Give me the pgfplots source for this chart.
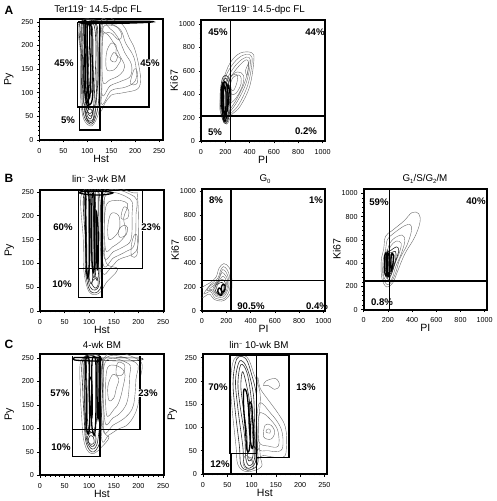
\documentclass[border=0pt]{standalone}
\usepackage{pgfplots}
\pgfplotsset{compat=1.18}
\usepackage{fontspec}
\setmainfont{Liberation Sans}
\newcommand\ct[1]{\addplot[ctl] coordinates {#1};}
\newcommand\cb[1]{\addplot[ctb] coordinates {#1};}
\newcommand\ck[1]{\addplot[ctk] coordinates {#1};}
\newcommand\gt[1]{\addplot[gate] coordinates {#1};}
\newcommand\mns{\raisebox{.55ex}{\fontsize{5.5}{6}\selectfont\textminus}}
\tikzset{
 ctl/.style={color=black!58,line width=.4pt,smooth cycle,tension=.6},
 ctb/.style={color=black!82,line width=.6pt,smooth cycle,tension=.6},
 ctk/.style={color=black,line width=1.3pt,smooth cycle,tension=.6},
 gate/.style={color=black,line width=1.4pt,sharp plot},
 pct/.style={font=\fontsize{9.6}{10}\selectfont\bfseries,inner sep=.6pt},
 ttl/.style={font=\fontsize{9.8}{10}\selectfont},
 pan/.style={font=\fontsize{12}{13}\selectfont\bfseries}
}
\pgfplotsset{
 fc/.style={scale only axis,anchor=south west,
  axis line style={line width=1.7pt},
  /pgf/number format/assume math mode=true,
  /pgf/number format/1000 sep={},
  tick label style={font=\fontsize{7.2}{8}\selectfont},
  label style={font=\fontsize{10.5}{11}\selectfont},
  tick style={black,line width=.5pt},
  major tick length=2.5pt, minor tick length=1.4pt,
  tick align=outside,
  minor tick num=4,
  xtick pos=bottom, ytick pos=left,
  xlabel style={yshift=5pt}, ylabel style={yshift=1pt},
  xticklabel style={yshift=-2pt}, yticklabel style={xshift=0pt},
  scaled ticks=false, no markers},
 hst/.style={xtick={0,50,100,150,200,250},ytick={0,50,100,150,200,250},xlabel={Hst},ylabel={Py}},
 pik/.style={xtick={0,200,400,600,800,1000},ytick={0,200,400,600,800,1000},xlabel={PI},ylabel={Ki67},ylabel style={yshift=-7pt}},
}
\begin{document}
\begin{tikzpicture}[x=1pt,y=1pt]
\useasboundingbox (0,0) rectangle (496,501);
% ---------- A1
\begin{axis}[fc,hst,at={(39.5pt,361pt)},width=123.5pt,height=121pt,xmin=0,xmax=258,ymin=0,ymax=256]
\ct{(125,72)(138,80)(150,95)(175,100)(205,108)(211,130)(206,165)(198,195)(188,215)(178,238)(165,248)(128,249)}
\ct{(128,82)(150,105)(180,112)(200,125)(202,150)(196,178)(180,205)(170,232)(150,245)(128,245)}
\ct{(130,100)(148,115)(172,125)(190,135)(192,160)(178,185)(165,215)(148,235)(130,238)}
\ct{(132,125)(148,128)(168,138)(178,155)(168,178)(155,205)(140,225)(132,215)}
\ct{(140,150)(155,148)(165,160)(170,172)(160,180)(160,200)(150,205)(140,185)}
\ct{(148,170)(158,165)(163,178)(155,185)}
\ct{(190,120)(204,120)(204,145)(198,150)}
\ct{(134,228)(150,226)(165,212)(172,222)(160,240)(136,242)}
\ct{(83,248)(85,190)(86,140)(86,90)(88,65)(92,45)(100,33)(110,30)(118,42)(124,60)(130,100)(130,190)(128,248)}
\cb{(85,248)(87,180)(88,110)(90,68)(94,48)(102,36)(110,34)(116,45)(122,70)(126,120)(126,200)(124,248)}
\cb{(90,248)(90,170)(92,100)(94,65)(98,46)(104,38)(110,38)(115,50)(118,75)(122,130)(122,200)(118,248)}
\cb{(96,60)(100,44)(106,40)(112,44)(114,60)(110,70)(100,72)}
\cb{(98,58)(103,46)(108,46)(111,58)(106,66)}
\cb{(92,248)(92,150)(95,90)(100,60)(108,50)(113,70)(116,130)(118,200)(112,248)}
\cb{(100,240)(102,170)(104,120)(108,100)(111,135)(112,180)(110,240)}
\cb{(88,248)(89,150)(91,90)(96,70)(106,56)(117,80)(120,140)(120,210)(115,248)}
\ck{(96,245)(97,190)(96,140)(98,95)(103,75)(110,85)(112,130)(110,175)(108,240)}
\ck{(100,240)(100,170)(101,130)(103,90)(106,100)(107,150)(105,200)(105,240)}
\ck{(93,248)(94,190)(93,130)(97,85)(103,68)(100,120)(100,190)(99,245)}
\ck{(120,247)(175,247)(228,249)(228,251)(120,251)}
\ck{(85,248)(105,246)(124,248)(105,251)}
\gt{(80,250)(80,70)(229,70)(229,250)(80,250)}
\gt{(125,250)(125,70)}
\gt{(83,70)(83,21)(126,21)(126,70)}
\end{axis}
% ---------- A2
\begin{axis}[fc,pik,at={(201pt,360pt)},width=124pt,height=121pt,xmin=0,xmax=1020,ymin=0,ymax=1034]
\ct{(197,150)(156,265)(165,420)(183,520)(238,665)(320,750)(416,755)(435,690)(400,465)(320,293)(250,222)(225,160)}
\ct{(205,170)(170,300)(190,510)(250,640)(330,725)(405,735)(420,670)(385,480)(310,310)(245,235)}
\ct{(205,190)(180,320)(205,500)(265,620)(340,700)(395,715)(405,650)(370,490)(300,340)(240,250)}
\ct{(210,210)(190,340)(220,490)(280,600)(350,680)(385,690)(390,620)(355,490)(295,360)(240,270)}
\ct{(220,420)(240,540)(300,590)(350,560)(340,470)(290,370)(240,330)}
\ct{(240,470)(265,545)(320,560)(330,490)(290,410)(250,400)}
\ct{(365,600)(385,650)(395,680)(385,600)(378,560)}
\cb{(190,155)(165,250)(158,400)(175,530)(205,560)(235,520)(248,400)(240,280)(220,170)}
\cb{(192,165)(172,260)(168,400)(182,510)(205,535)(225,500)(238,400)(230,280)(215,180)}
\ct{(225,500)(250,560)(300,560)(290,480)(260,430)}
\ck{(190,175)(176,270)(172,400)(185,490)(205,500)(222,400)(215,280)(205,185)}
\ck{(195,200)(185,300)(185,420)(195,470)(205,420)(205,300)}
\ck{(180,240)(168,340)(172,470)(190,500)(178,400)(186,290)}
\ck{(215,260)(226,340)(232,440)(222,480)(214,400)}
\gt{(241,0)(241,1034)}
\gt{(0,214)(1020,214)}
\end{axis}
% ---------- B1
\begin{axis}[fc,hst,at={(40pt,190pt)},width=124pt,height=121pt,xmin=0,xmax=252,ymin=0,ymax=254]
\ct{(126,88)(145,92)(160,108)(195,125)(200,170)(198,240)(190,248)(128,249)}
\ct{(128,100)(150,112)(175,125)(192,140)(195,200)(192,240)(130,245)}
\ct{(130,115)(150,125)(170,135)(185,150)(187,200)(183,235)(132,240)}
\ct{(133,130)(148,135)(165,148)(175,165)(170,195)(178,225)(150,232)(133,215)}
\ct{(140,150)(155,160)(162,175)(160,200)(145,205)(138,180)}
\ct{(162,155)(175,160)(178,175)(170,180)(160,170)}
\ct{(165,195)(178,195)(180,212)(170,218)}
\ct{(186,115)(197,118)(198,155)(192,160)(186,140)}
\ct{(85,248)(88,150)(88,100)(92,65)(100,40)(112,34)(125,42)(135,60)(158,88)(135,100)(130,150)(128,248)}
\cb{(90,248)(92,150)(92,90)(96,60)(102,42)(112,38)(122,46)(127,70)(126,130)(125,248)}
\cb{(96,248)(95,130)(96,80)(102,50)(112,44)(120,55)(122,90)(122,150)(120,248)}
\cb{(105,60)(112,48)(118,55)(116,70)}
\cb{(100,248)(100,120)(100,70)(106,60)(108,120)(108,248)}
\cb{(112,248)(112,100)(115,65)(119,80)(118,150)(118,248)}
\cb{(93,248)(94,150)(95,100)(98,66)(102,120)(102,248)}
\cb{(104,248)(104,150)(106,90)(110,70)(113,110)(112,248)}
\ck{(92,245)(93,160)(94,95)(97,70)(100,100)(100,200)(99,245)}
\ck{(106,240)(105,170)(106,100)(109,80)(111,110)(110,180)(110,240)}
\ck{(114,210)(115,140)(116,90)(118,100)(118,170)}
\ck{(80,248)(100,244)(130,244)(148,248)(130,251)(90,251)}
\gt{(78,252)(78,89)(208,89)(208,252)}
\gt{(126,252)(126,28)(78,28)(78,89)}
\end{axis}
% ---------- B2
\begin{axis}[fc,pik,at={(202pt,190.3pt)},width=123.3pt,height=121.7pt,xmin=0,xmax=1016,ymin=0,ymax=1020]
\ct{(0,110)(60,140)(100,95)(180,85)(240,160)(245,280)(225,360)(180,395)(140,355)(115,280)(60,230)(0,190)}
\ct{(15,140)(70,160)(110,105)(180,100)(225,170)(230,270)(210,340)(175,370)(150,330)(130,270)(70,220)}
\ct{(40,170)(80,170)(115,120)(175,115)(215,180)(220,260)(200,320)(170,345)(150,300)(130,250)(70,210)}
\ct{(60,180)(90,175)(120,130)(170,125)(205,180)(210,260)(190,300)(165,320)(145,280)(115,230)}
\ct{(90,185)(125,140)(165,130)(195,180)(200,250)(175,290)(150,265)(115,220)}
\cb{(105,190)(130,140)(165,140)(190,180)(190,240)(165,260)(130,235)}
\cb{(120,190)(140,150)(165,150)(180,180)(175,230)(150,235)(125,215)}
\ck{(130,160)(150,130)(165,140)(155,180)(140,190)}
\ck{(165,160)(185,165)(190,210)(170,220)(160,200)}
\gt{(239,0)(239,1020)}
\gt{(0,252)(1016,252)}
\end{axis}
% ---------- B3
\begin{axis}[fc,pik,at={(363.7pt,191.3pt)},width=123.3pt,height=120.7pt,xmin=0,xmax=1019,ymin=0,ymax=1037]
\ct{(190,195)(150,270)(145,420)(165,520)(180,630)(235,680)(330,760)(400,835)(455,825)(465,750)(420,620)(340,480)(280,330)(240,230)}
\ct{(195,215)(160,280)(160,420)(180,510)(195,600)(240,650)(335,720)(385,730)(395,680)(360,560)(300,440)(265,320)(230,240)}
\ct{(200,240)(165,290)(170,420)(195,500)(215,570)(260,620)(320,640)(340,590)(310,480)(265,370)(235,270)}
\ct{(205,260)(175,300)(180,420)(205,500)(225,550)(270,590)(310,570)(295,490)(255,390)(225,290)}
\cb{(205,280)(175,320)(172,440)(190,490)(225,510)(270,540)(290,510)(265,420)(230,310)}
\cb{(210,300)(178,340)(178,440)(195,480)(230,490)(262,500)(265,440)(235,340)}
\cb{(200,320)(180,350)(182,450)(200,470)(225,470)(250,470)(240,370)(215,320)}
\ck{(185,290)(172,340)(175,470)(190,470)(192,340)}
\ck{(205,290)(198,350)(202,470)(215,470)(218,350)}
\ck{(230,340)(225,420)(232,480)(245,470)(242,400)}
\ck{(195,300)(190,400)(194,490)(200,400)}
\gt{(214,0)(214,1037)}
\gt{(0,247)(1019,247)}
\end{axis}
% ---------- C1
\begin{axis}[fc,hst,at={(40pt,25.7pt)},width=124pt,height=121pt,xmin=0,xmax=252,ymin=0,ymax=258]
\ct{(125,82)(140,86)(158,98)(180,110)(198,145)(203,200)(202,245)(130,250)}
\ct{(128,98)(150,108)(175,125)(190,150)(195,205)(195,240)(130,245)}
\ct{(132,115)(148,122)(165,135)(178,160)(182,210)(180,238)(132,240)}
\ct{(135,130)(150,140)(160,155)(168,185)(172,220)(150,235)(135,220)}
\ct{(140,160)(150,165)(155,185)(160,205)(148,215)(138,190)}
\ct{(155,215)(168,215)(172,235)(158,240)}
\ct{(85,248)(82,180)(85,120)(88,80)(95,55)(105,46)(115,50)(125,60)(140,80)(130,95)(128,160)(126,248)}
\cb{(88,248)(87,180)(90,120)(92,80)(97,60)(105,50)(114,54)(122,75)(125,130)(125,248)}
\cb{(92,248)(91,170)(92,110)(95,75)(100,62)(106,56)(113,60)(118,78)(122,130)(122,248)}
\cb{(96,80)(102,64)(108,62)(113,70)(113,85)(105,92)}
\cb{(98,72)(104,66)(110,70)(108,82)(101,84)}
\cb{(96,248)(96,170)(97,110)(103,92)(110,95)(116,130)(118,200)(116,248)}
\cb{(90,248)(90,180)(92,120)(96,88)(100,110)(100,200)(98,248)}
\ck{(93,245)(94,170)(94,110)(98,88)(101,110)(100,180)(100,245)}
\ck{(106,245)(105,170)(105,110)(110,85)(113,110)(114,180)(113,245)}
\ck{(100,200)(103,130)(106,130)(105,200)}
\ck{(116,240)(116,170)(118,120)(120,170)(120,240)}
\ck{(70,246)(100,244)(122,244)(122,251)(90,251)(70,251)}
\cb{(124,246)(160,244)(202,245)(202,250)(124,250)}
\gt{(66,254)(66,98)(203,98)(203,254)}
\gt{(122,254)(122,40)(66,40)(66,98)}
\end{axis}
% ---------- C2
\begin{axis}[fc,hst,at={(203pt,27pt)},width=123.7pt,height=120pt,xmin=0,xmax=255,ymin=0,ymax=258]
\ct{(110,45)(125,40)(165,36)(172,60)(170,100)(155,130)(120,180)(112,200)}
\ct{(112,60)(135,50)(160,50)(165,70)(160,100)(140,130)(115,150)}
\ct{(115,70)(135,60)(155,60)(155,90)(145,110)(125,130)(115,125)}
\ct{(125,80)(140,75)(148,90)(140,105)(128,105)}
\ct{(130,90)(138,88)(138,96)(132,96)}
\ct{(125,190)(130,200)(150,205)(158,190)(148,182)(135,190)}
\ct{(65,248)(57,200)(60,140)(68,60)(72,20)(90,5)(120,15)(118,40)(114,100)(118,170)(105,215)(90,252)}
\cb{(70,248)(62,200)(66,140)(75,60)(78,20)(92,8)(112,20)(112,60)(110,120)(110,170)(100,215)(88,248)}
\cb{(74,240)(67,200)(72,140)(82,60)(84,25)(93,12)(108,25)(108,60)(106,120)(104,170)(95,215)(84,240)}
\cb{(78,235)(72,195)(76,150)(86,80)(88,35)(95,18)(106,32)(105,80)(102,130)(98,175)(90,220)}
\cb{(82,220)(78,190)(82,150)(90,90)(92,40)(95,28)(103,40)(102,90)(98,140)(92,180)}
\ct{(90,25)(95,18)(102,22)(100,35)(92,35)}
\ct{(85,15)(100,10)(105,20)(90,40)(83,30)}
\ck{(84,180)(84,140)(88,90)(90,55)(95,50)(98,90)(94,140)(90,175)}
\ck{(95,150)(95,110)(98,70)(102,55)(105,80)(102,120)(100,150)}
\gt{(56,256)(56,43.5)(110,43.5)}
\gt{(110,256)(110,0)}
\gt{(58,43.5)(58,0)}
\gt{(110,36)(177,36)(177,256)(56,256)}
\end{axis}
% ---------- titles
\node[ttl] at (98,491) {Ter119\mns{} 14.5-dpc FL};
\node[ttl] at (261,491) {Ter119\mns{} 14.5-dpc FL};
\node[ttl] at (99,322) {lin\mns{} 3-wk BM};
\node[ttl] at (265,322) {G\raisebox{-.3ex}{\fontsize{6}{6}\selectfont 0}};
\node[ttl] at (425,322) {G\raisebox{-.3ex}{\fontsize{6}{6}\selectfont 1}/S/G\raisebox{-.3ex}{\fontsize{6}{6}\selectfont 2}/M};
\node[ttl] at (102,156) {4-wk BM};
\node[ttl] at (259,156) {lin\mns{} 10-wk BM};
\node[pan] at (9,491) {A};
\node[pan] at (9,323) {B};
\node[pan] at (9,157) {C};
% ---------- percentages
\node[pct] at (64,438) {45\%};
\node[pct] at (68,381) {5\%};
\node[pct,fill=white] at (150,438) {45\%};
\node[pct] at (218,469) {45\%};
\node[pct] at (315,469) {44\%};
\node[pct] at (215,369) {5\%};
\node[pct] at (306,370) {0.2\%};
\node[pct] at (63,274) {60\%};
\node[pct] at (62,217) {10\%};
\node[pct,fill=white] at (151,274) {23\%};
\node[pct] at (216,301) {8\%};
\node[pct] at (316,301) {1\%};
\node[pct] at (251,195) {90.5\%};
\node[pct] at (317,195) {0.4\%};
\node[pct] at (379,299) {59\%};
\node[pct] at (476,300) {40\%};
\node[pct] at (382,199) {0.8\%};
\node[pct] at (60,108) {57\%};
\node[pct] at (61,54) {10\%};
\node[pct,fill=white] at (148,108) {23\%};
\node[pct] at (218,114) {70\%};
\node[pct] at (306,114) {13\%};
\node[pct] at (220,37) {12\%};
\end{tikzpicture}
\end{document}
